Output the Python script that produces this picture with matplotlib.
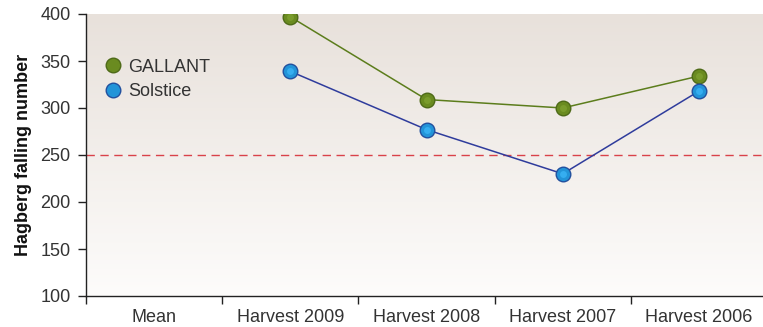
import numpy as np
import matplotlib
matplotlib.use("Agg")
import matplotlib.pyplot as plt
from matplotlib.colors import LinearSegmentedColormap

categories = ["Mean", "Harvest 2009", "Harvest 2008", "Harvest 2007", "Harvest 2006"]
gallant = [np.nan, 397, 309, 300, 334]
solstice = [np.nan, 339, 277, 230, 318]
threshold = 250
y_ticks = [100, 150, 200, 250, 300, 350, 400]

plt.rcParams['font.family'] = ['Liberation Sans', 'DejaVu Sans']

fig = plt.figure(figsize=(7.63, 3.27), dpi=100)
ax = fig.add_axes([86/763, 1-296/327, (763-86)/763, (296-14)/327])

x = np.arange(len(categories))
xlim = (-0.5, 4.47)
ylim = (100, 400)

# gradient background
cmap = LinearSegmentedColormap.from_list("bg", ["#fdfcfb", "#e8e1db"])
grad = np.linspace(0, 1, 256).reshape(-1, 1)
ax.imshow(grad, aspect="auto", cmap=cmap, origin="lower",
          extent=[xlim[0], xlim[1], ylim[0], ylim[1]], zorder=0)

ax.axhline(threshold, color="#d9424a", lw=1.0, ls=(0, (6, 4)), zorder=1)

ax.plot(x, gallant, color="#5c7d1c", lw=1.1, marker="o", ms=10.5,
        mfc="#6a8b20", mec="#4e6a18", mew=1.0, label="GALLANT", zorder=3)
ax.plot(x, solstice, color="#2f3c9c", lw=1.1, marker="o", ms=10.5,
        mfc="#2294d8", mec="#22509e", mew=1.0, label="Solstice", zorder=3)
# soft highlight to suggest the shaded ball markers
ax.plot(x, gallant, ls="none", marker="o", ms=5, mfc="#7a9c2c", mec="none", zorder=4)
ax.plot(x, solstice, ls="none", marker="o", ms=5, mfc="#35aef0", mec="none", zorder=4)

ax.set_xlim(*xlim)
ax.set_ylim(*ylim)
ax.set_xticks(x)
ax.set_xticklabels(categories, fontsize=13, color="#333333")
ax.set_xticks(np.arange(-0.5, 4.0, 1.0), minor=True)
ax.tick_params(axis="x", which="major", length=0, pad=9)
ax.tick_params(axis="x", which="minor", length=6, width=1.0, color="#222222", direction="out")
ax.set_yticks(y_ticks)
ax.set_yticklabels([str(v) for v in y_ticks], fontsize=13, color="#333333")
ax.tick_params(axis="y", length=6, width=1.0, color="#222222", direction="out", pad=5)

for s in ["top", "right"]:
    ax.spines[s].set_visible(False)
for s in ["left", "bottom"]:
    ax.spines[s].set_color("#222222")
    ax.spines[s].set_linewidth(1.0)

ax.set_ylabel("Hagberg falling number", fontsize=13, fontweight="bold", color="#111111", labelpad=6)

leg = ax.legend(loc="upper left", bbox_to_anchor=(0.0, 0.912), frameon=False,
                fontsize=13, handlelength=0.8, handletextpad=0.45, labelspacing=0.42,
                borderpad=0.6)
for t in leg.get_texts():
    t.set_color("#333333")
for h in leg.legend_handles:
    h.set_linestyle("none")

fig.savefig("out.png", dpi=100)
